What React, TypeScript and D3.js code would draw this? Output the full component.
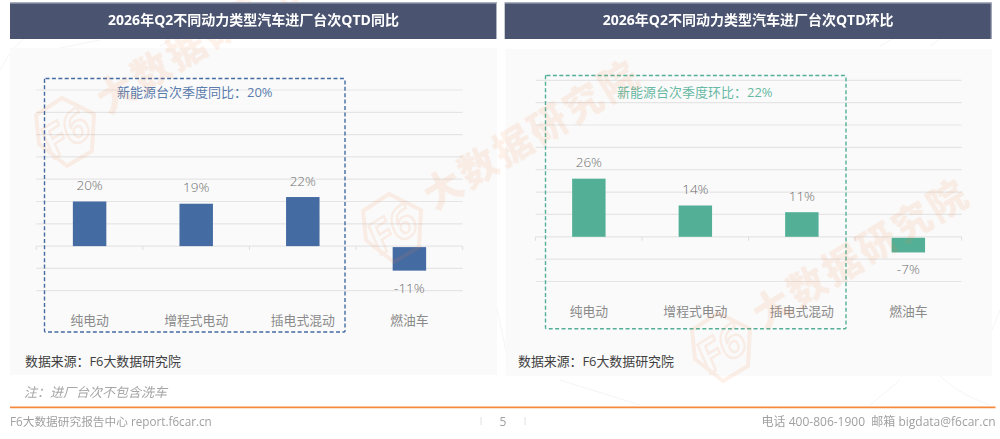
// App.tsx
import * as d3 from "d3";
import React, { useRef, useEffect } from "react";

const categories = ["纯电动", "增程式电动", "插电式混动", "燃油车"];
const yoyValues = [20, 19, 22, -11];
const qoqValues = [26, 14, 11, -7];
const yDomain = [-20, 70];
const yTickValues = [-20, -10, 0, 10, 20, 30, 40, 50, 60, 70];

const FONT = "'Open Sans','Noto Sans CJK SC',sans-serif";
const BLUE = "#456ba3";
const GREEN = "#53b097";
const WATERMARK = "#f0813f";

type PanelConfig = {
  title: string;
  values: number[];
  color: string;
  note: string;
  header: [number, number];
  panel: [number, number, number, number];
  plot: { left: number; right: number; top: number; bottom: number };
  box: [number, number, number, number];
  noteX: number;
  noteY: number;
  catY: number;
  sourceX: number;
};

const panels: PanelConfig[] = [
  {
    title: "2026年Q2不同动力类型汽车进厂台次QTD同比",
    values: yoyValues,
    color: BLUE,
    note: "新能源台次季度同比：20%",
    header: [10, 497],
    panel: [10, 48, 497, 375],
    plot: { left: 36.3, right: 462.7, top: 90, bottom: 290.7 },
    box: [44.5, 78.5, 345, 332],
    noteX: 117,
    noteY: 97,
    catY: 325,
    sourceX: 25,
  },
  {
    title: "2026年Q2不同动力类型汽车进厂台次QTD环比",
    values: qoqValues,
    color: GREEN,
    note: "新能源台次季度环比：22%",
    header: [504.7, 991.7],
    panel: [505.5, 49, 992, 375.7],
    plot: { left: 535.6, right: 961.6, top: 80.3, bottom: 281.5 },
    box: [545.5, 75.5, 846, 328.7],
    noteX: 617,
    noteY: 97,
    catY: 316,
    sourceX: 518,
  },
];

// 背景の薄い線
const bgLines = [
  "M0,70 Q20,30 70,12",
  "M60,48 L100,40",
  "M160,46 L190,28",
  "M470,120 Q480,240 510,370",
  "M930,46 L980,10",
  "M880,46 L925,20",
  "M992,330 L1000,310",
  "M560,380 L640,405",
  "M900,380 L870,405",
  "M940,376 Q960,395 990,405",
];

// [ロゴ中心x, ロゴ中心y]
const watermarks: [number, number][] = [
  [65, 132],
  [392, 228],
  [721, 347],
];

export default function App() {
  const svgRef = useRef<SVGSVGElement | null>(null);

  useEffect(() => {
    if (!svgRef.current) return;
    const svg = d3.select(svgRef.current);
    svg.selectAll("*").remove();
    svg.attr("font-family", FONT);

    const bg = svg.append("g");
    bg.selectAll("path")
      .data(bgLines)
      .enter()
      .append("path")
      .attr("d", (d) => d)
      .attr("fill", "none")
      .attr("stroke", "#f5f5f5")
      .attr("stroke-width", 1);

    // パネル本体
    panels.forEach((p) => {
      const [px0, py0, px1, py1] = p.panel;
      const g = svg.append("g");
      g.append("rect")
        .attr("x", px0)
        .attr("y", py0)
        .attr("width", px1 - px0)
        .attr("height", py1 - py0)
        .attr("fill", "#fafafa");

      const x = d3
        .scaleBand()
        .domain(categories)
        .range([p.plot.left, p.plot.right])
        .paddingInner(0.686)
        .paddingOuter(0.343);
      const y = d3.scaleLinear().domain(yDomain).range([p.plot.bottom, p.plot.top]);

      // グリッド線
      g.selectAll("line.grid")
        .data(yTickValues)
        .enter()
        .append("line")
        .attr("class", "grid")
        .attr("x1", p.plot.left)
        .attr("x2", p.plot.right)
        .attr("y1", (d) => y(d))
        .attr("y2", (d) => y(d))
        .attr("stroke", "#e5e5e5")
        .attr("stroke-width", 1.2);

      // x 軸の目盛り（バンドの境界）
      const step = x.step();
      const edges = categories
        .map((c) => x(c)! + x.bandwidth() / 2 - step / 2)
        .concat(p.plot.right);
      g.selectAll("line.tick")
        .data(edges)
        .enter()
        .append("line")
        .attr("class", "tick")
        .attr("x1", (d) => d)
        .attr("x2", (d) => d)
        .attr("y1", y(0))
        .attr("y2", y(0) + 4)
        .attr("stroke", "#dedede")
        .attr("stroke-width", 1);

      // 棒
      g.selectAll("rect.bar")
        .data(p.values)
        .enter()
        .append("rect")
        .attr("class", "bar")
        .attr("x", (_, i) => x(categories[i])!)
        .attr("y", (d) => y(Math.max(d, 0)) + (d < 0 ? 1 : 0))
        .attr("width", x.bandwidth())
        .attr("height", (d) => Math.abs(y(d) - y(0)) - (d < 0 ? 1 : 0))
        .attr("fill", p.color);

      // 値ラベル
      g.selectAll("text.value")
        .data(p.values)
        .enter()
        .append("text")
        .attr("class", "value")
        .attr("x", (_, i) => x(categories[i])! + x.bandwidth() / 2)
        .attr("y", (d) => (d >= 0 ? y(d) - 11.5 : y(d) + 22))
        .attr("text-anchor", "middle")
        .attr("font-size", 13.5)
        .attr("font-weight", 300)
        .attr("fill", "#6f6f6f")
        .text((d) => `${d}%`);

      // カテゴリラベル
      g.selectAll("text.cat")
        .data(categories)
        .enter()
        .append("text")
        .attr("class", "cat")
        .attr("x", (d) => x(d)! + x.bandwidth() / 2)
        .attr("y", p.catY)
        .attr("text-anchor", "middle")
        .attr("font-size", 12.8)
        .attr("fill", "#8a8a8a")
        .text((d) => d);

      // 破線の枠
      const [bx0, by0, bx1, by1] = p.box;
      g.append("rect")
        .attr("x", bx0)
        .attr("y", by0)
        .attr("width", bx1 - bx0)
        .attr("height", by1 - by0)
        .attr("rx", 1)
        .attr("fill", "none")
        .attr("stroke", p.color)
        .attr("stroke-width", 1.4)
        .attr("stroke-dasharray", "4 2.4");

      g.append("text")
        .attr("x", p.noteX)
        .attr("y", p.noteY)
        .attr("font-size", 13)
        .attr("fill", p.color)
        .attr("fill-opacity", 0.9)
        .text(p.note);

      g.append("text")
        .attr("x", p.sourceX)
        .attr("y", 366)
        .attr("font-size", 12.9)
        .attr("fill", "#404040")
        .text("数据来源：F6大数据研究院");
    });

    // 透かし
    const hex = d3.line().curve(d3.curveLinearClosed);
    const hexPoints: [number, number][] = [
      [-3, -34],
      [29, -18],
      [27, 19],
      [2, 34],
      [-26, 12],
      [-29, -17],
    ];
    watermarks.forEach(([cx, cy]) => {
      const wm = svg.append("g").attr("opacity", 0.11);
      wm.append("path")
        .attr("transform", `translate(${cx},${cy})`)
        .attr("d", hex(hexPoints))
        .attr("fill", "none")
        .attr("stroke", WATERMARK)
        .attr("stroke-width", 4)
        .attr("stroke-linejoin", "round");
      wm.append("text")
        .attr("transform", `translate(${cx},${cy}) rotate(-32) skewX(-8)`)
        .attr("text-anchor", "middle")
        .attr("dominant-baseline", "central")
        .attr("font-size", 44)
        .attr("font-weight", 700)
        .attr("fill", "none")
        .attr("stroke", WATERMARK)
        .attr("stroke-width", 2.4)
        .text("F6");
      wm.append("text")
        .attr("transform", `translate(${cx + 139},${cy - 95}) rotate(-31.5)`)
        .attr("text-anchor", "middle")
        .attr("dominant-baseline", "central")
        .attr("font-size", 38)
        .attr("font-weight", 900)
        .attr("letter-spacing", 3)
        .attr("fill", WATERMARK)
        .text("大数据研究院");
    });

    // ヘッダー
    panels.forEach((p) => {
      const [hx0, hx1] = p.header;
      svg
        .append("rect")
        .attr("x", hx0)
        .attr("y", 2.5)
        .attr("width", hx1 - hx0)
        .attr("height", 36.5)
        .attr("fill", "#4a5470");
      svg
        .append("path")
        .attr("d", `M${hx0},3 H${hx1 - 0.5} V39`)
        .attr("fill", "none")
        .attr("stroke", "#aeb3c2")
        .attr("stroke-width", 1);
      svg
        .append("text")
        .attr("x", (hx0 + hx1) / 2)
        .attr("y", 25)
        .attr("text-anchor", "middle")
        .attr("font-size", 14)
        .attr("font-weight", 700)
        .attr("fill", "#ffffff")
        .text(p.title);
    });

    // 脚注とフッター
    svg
      .append("text")
      .attr("x", 24)
      .attr("y", 396.5)
      .attr("font-size", 13)
      .attr("font-style", "italic")
      .attr("fill", "#a6a6a6")
      .text("注：进厂台次不包含洗车");

    svg
      .append("line")
      .attr("x1", 10)
      .attr("x2", 995.5)
      .attr("y1", 407.3)
      .attr("y2", 407.3)
      .attr("stroke", "#f58a3c")
      .attr("stroke-width", 1.8);

    const footer = svg.append("g").attr("fill", "#a0a0a0");
    footer
      .append("text")
      .attr("x", 10)
      .attr("y", 426)
      .attr("font-size", 11.7)
      .text("F6大数据研究报告中心 report.f6car.cn");
    footer
      .append("text")
      .attr("x", 503)
      .attr("y", 426)
      .attr("font-size", 12)
      .attr("text-anchor", "middle")
      .text("5");
    footer
      .append("text")
      .attr("x", 995.5)
      .attr("y", 426)
      .attr("font-size", 12)
      .attr("text-anchor", "end")
      .style("white-space", "pre")
      .text("电话 400-806-1900  邮箱 bigdata@f6car.cn");
    [481, 525].forEach((lx) => {
      svg
        .append("line")
        .attr("x1", lx)
        .attr("x2", lx)
        .attr("y1", 417)
        .attr("y2", 425)
        .attr("stroke", "#e0e0e0")
        .attr("stroke-width", 1);
    });
  }, []);

  return (
    <svg
      ref={svgRef}
      width={1000}
      height={439}
      style={{ position: "absolute", left: 0, top: 0, background: "#ffffff" }}
    ></svg>
  );
}
